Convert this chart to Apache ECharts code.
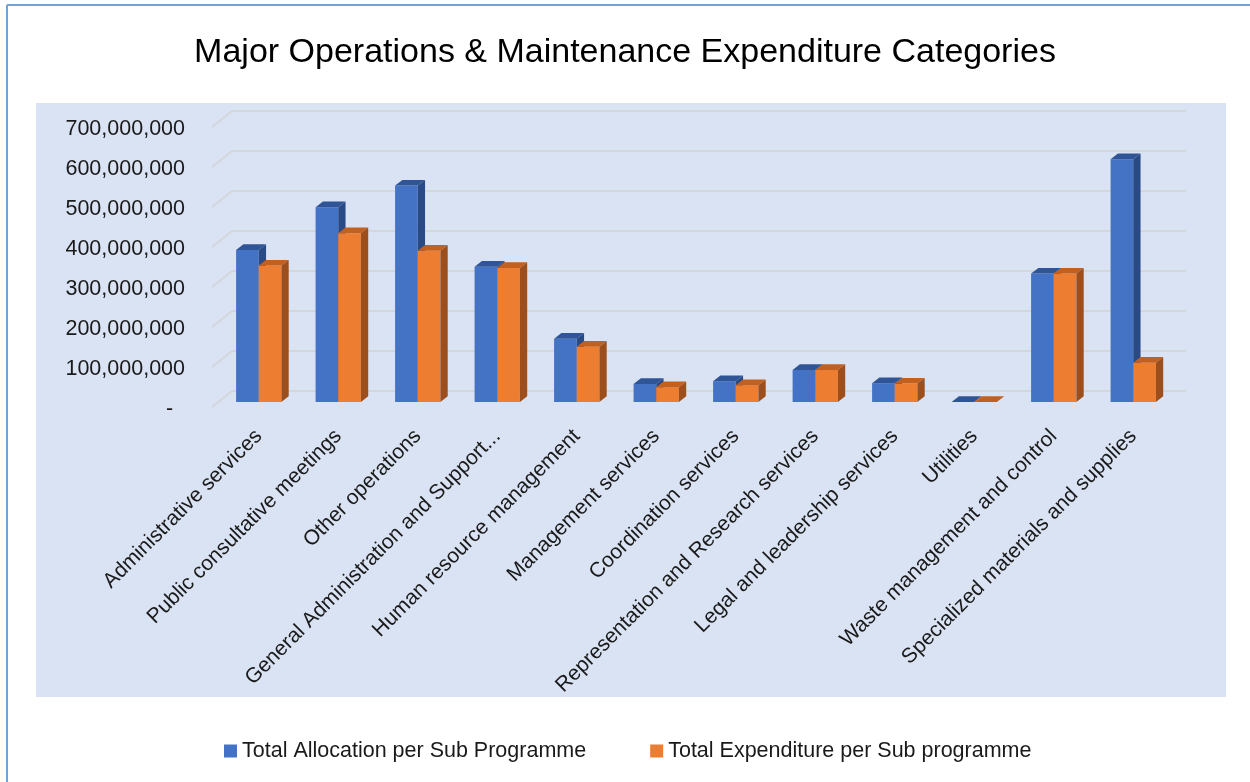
<!DOCTYPE html>
<html>
<head>
<meta charset="utf-8">
<script src="https://cdn.jsdelivr.net/npm/echarts@6/dist/echarts.min.js"></script>
<style>
  html, body { margin: 0; padding: 0; background: #fff; }
  #chart { width: 1250px; height: 782px; }
</style>
</head>
<body>
<div id="chart"></div>
<script>
var categories = [
  "Administrative services",
  "Public consultative meetings",
  "Other operations",
  "General Administration and Support...",
  "Human resource management",
  "Management services",
  "Coordination services",
  "Representation and Research services",
  "Legal and leadership services",
  "Utilities",
  "Waste management and control",
  "Specialized materials and supplies"
];
var allocation = [380000000, 487000000, 541000000, 338000000, 158000000, 45000000,
  52000000, 80000000, 47000000, 0, 321000000, 607000000];
var expenditure = [341000000, 422000000, 378000000, 335000000, 138000000, 37000000,
  42000000, 80000000, 46000000, 0, 321000000, 98000000];
var yTicks = [0, 100000000, 200000000, 300000000, 400000000, 500000000, 600000000, 700000000];

var FONT = "'Liberation Sans', Arial, sans-serif";

// fake 3d column, drawn from the back wall coords and pushed forward
function bar3d(side, cFront, cTop, cSide) {
  return function (params, api) {
    var ci = api.value(0), v = api.value(1);
    var base = api.coord([ci, 0]);
    var tip = api.coord([ci, v]);
    var band = api.size([1, 0])[0];
    var w = band * 0.285;
    var cx = base[0] - 13;
    var x0 = side === 0 ? cx - w : cx;
    var x1 = x0 + w;
    var yb = base[1] + 11, yt = tip[1] + 11;
    var dx = 7.3, dy = 5.7;
    return {
      type: "group",
      children: [
        { type: "polygon", shape: { points: [[x0, yb], [x1, yb], [x1, yt], [x0, yt]] }, style: { fill: cFront } },
        { type: "polygon", shape: { points: [[x0, yt], [x1, yt], [x1 + dx, yt - dy], [x0 + dx, yt - dy]] }, style: { fill: cTop } },
        { type: "polygon", shape: { points: [[x1, yb], [x1 + dx, yb - dy], [x1 + dx, yt - dy], [x1, yt]] }, style: { fill: cSide } }
      ]
    };
  };
}

function fmt(v) {
  if (v === 0) return "-  ";
  return String(v).replace(/\B(?=(\d{3})+(?!\d))/g, ",");
}

var chart = echarts.init(document.getElementById("chart"));
chart.setOption({
  animation: false,
  textStyle: { fontFamily: FONT },
  title: {
    text: "Major Operations & Maintenance Expenditure Categories",
    left: "center",
    top: 31,
    textStyle: { fontFamily: FONT, fontSize: 34, fontWeight: "normal", color: "#000" }
  },
  graphic: [
    { type: "rect", z: -10, shape: { x: 36, y: 103, width: 1190, height: 594 }, style: { fill: "#DAE3F3" } },
    { type: "line", z: -10, shape: { x1: 7, y1: 5, x2: 1250, y2: 5 }, style: { stroke: "#6FA3DC", lineWidth: 2 } },
    { type: "line", z: -10, shape: { x1: 7, y1: 5, x2: 7, y2: 782 }, style: { stroke: "#6FA3DC", lineWidth: 2 } }
  ],
  legend: {
    left: 219,
    top: 735,
    itemWidth: 13,
    itemHeight: 13,
    itemGap: 64,
    icon: "rect",
    data: ["Total Allocation per Sub Programme", "Total Expenditure per Sub programme"],
    textStyle: { fontFamily: FONT, fontSize: 21.5, color: "#1a1a1a" }
  },
  grid: [
    { left: 232, width: 954, top: 111, height: 280 },
    { left: 219, width: 954, top: 129, height: 280 }
  ],
  xAxis: [
    { type: "category", gridIndex: 0, data: categories, axisLine: { show: false },
      axisTick: { show: false }, axisLabel: { show: false } },
    { type: "category", gridIndex: 1, data: categories, axisLine: { show: false },
      axisTick: { show: false },
      axisLabel: { rotate: 45, margin: 24, interval: 0, fontSize: 21, color: "#1a1a1a", fontFamily: FONT } }
  ],
  yAxis: [
    { type: "value", gridIndex: 0, min: 0, max: 700000000, interval: 100000000,
      axisLabel: { show: false }, axisLine: { show: false }, axisTick: { show: false },
      splitLine: { lineStyle: { color: "#D3D6DB", width: 2 } } },
    { type: "value", gridIndex: 1, min: 0, max: 700000000, interval: 100000000,
      axisLine: { show: false }, axisTick: { show: false }, splitLine: { show: false },
      axisLabel: { margin: 34, fontSize: 21.5, color: "#1a1a1a", fontFamily: FONT, formatter: fmt } }
  ],
  series: [
    {
      // side lines of the wall, one per tick
      name: "walls",
      type: "custom",
      xAxisIndex: 0, yAxisIndex: 0,
      silent: true,
      data: yTicks.map(function (t) { return [0, t]; }),
      renderItem: function (params, api) {
        var p = api.coord([0, api.value(1)]);
        var x = params.coordSys.x;
        return { type: "line", shape: { x1: x, y1: p[1], x2: x - 20, y2: p[1] + 16 },
          style: { stroke: "#D3D6DB", lineWidth: 2 } };
      }
    },
    {
      name: "Total Allocation per Sub Programme",
      type: "custom",
      xAxisIndex: 0, yAxisIndex: 0,
      itemStyle: { color: "#4472C4" },
      data: allocation.map(function (v, i) { return [i, v]; }),
      renderItem: bar3d(0, "#4472C4", "#2F5596", "#2A4A86")
    },
    {
      name: "Total Expenditure per Sub programme",
      type: "custom",
      xAxisIndex: 0, yAxisIndex: 0,
      itemStyle: { color: "#ED7D31" },
      data: expenditure.map(function (v, i) { return [i, v]; }),
      renderItem: bar3d(1, "#ED7D31", "#C2611F", "#9C4F1D")
    }
  ]
});
</script>
</body>
</html>
